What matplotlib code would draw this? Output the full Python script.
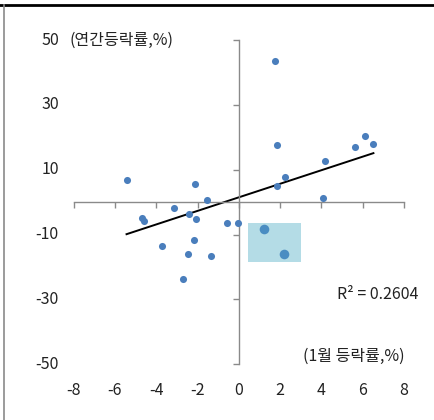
import numpy as np
import matplotlib.pyplot as plt
from matplotlib.lines import Line2D

plt.rcParams['font.family'] = ['Noto Sans CJK KR', 'DejaVu Sans']

# 1월 등락률(x), 연간등락률(y)
x_vals = [1.76, -5.44, -2.10, -1.55, 1.87, 2.25, 1.83, 4.18, 4.07, 5.62, 6.10, 6.52,
          -3.15, -4.68, -4.60, -2.40, -2.06, -0.55, -0.06, -3.73, -2.16, -2.47, -1.34, -2.69]
y_vals = [43.5, 6.9, 5.5, 0.6, 17.7, 7.9, 5.0, 12.7, 1.4, 17.1, 20.5, 18.1,
          -1.9, -5.0, -5.9, -3.7, -5.3, -6.3, -6.3, -13.6, -11.8, -16.0, -16.7, -23.7]

# 강조 표시한 두 점
hi_x = [1.23, 2.20]
hi_y = [-8.4, -16.0]

# 강조 박스 범위
box_x = [0.45, 2.99]
box_y = [-18.4, -6.3]

# 추세선 (그림에서 읽은 기울기/절편)
trend_slope = 2.09
trend_intercept = 1.5

x_ticks = [-8, -6, -4, -2, 0, 2, 4, 6, 8]
y_ticks = [-50, -30, -10, 10, 30, 50]

all_x = np.array(x_vals + hi_x)

fig = plt.figure(figsize=(4.34, 4.20), dpi=100)
ax = fig.add_axes([0.1698, 0.1326, 0.761, 0.772])

ax.set_xlim(-8, 8)
ax.set_ylim(-50, 50)

# 박스
ax.fill_between(box_x, box_y[0], box_y[1], color='#b4dce6', lw=0, zorder=1)

# 산점도
ax.scatter(x_vals, y_vals, s=26, color='#4a7ebc', lw=0, zorder=3)
ax.scatter(hi_x, hi_y, s=48, color='#4a8dc2', lw=0, zorder=3)

# 추세선
xs = np.array([all_x.min(), all_x.max()])
ax.plot(xs, trend_slope * xs + trend_intercept, color='black', lw=1.4, zorder=2)

# 축 설정
for s in ['top', 'right']:
    ax.spines[s].set_visible(False)
ax.spines['left'].set_position(('data', 0))
ax.spines['bottom'].set_position(('data', 0))
for s in ['left', 'bottom']:
    ax.spines[s].set_color('#8a8a8a')
    ax.spines[s].set_linewidth(1.0)
ax.set_xticks(x_ticks)
ax.set_yticks(y_ticks)
ax.tick_params(axis='both', direction='out', length=4.5, width=1.0, color='#8a8a8a',
               labelbottom=False, labelleft=False)

# 눈금 라벨 (축 바깥쪽)
for v in y_ticks:
    ax.text(-0.045, v, str(v), transform=ax.get_yaxis_transform(), ha='right', va='center',
            fontsize=11.5, color='#222222')
for v in x_ticks:
    ax.text(v, -0.08, str(v), transform=ax.get_xaxis_transform(), ha='center', va='center',
            fontsize=11.5, color='#222222')

ax.text(-8.2, 50, '(연간등락률,%)', ha='left', va='center', fontsize=11.5, color='#222222')
ax.text(8.05, -47.5, '(1월 등락률,%)', ha='right', va='center', fontsize=11.5, color='#222222')
ax.text(6.72, -28.5, 'R² = 0.2604', ha='center', va='center', fontsize=11.5, color='#222222')

# 테두리
fig.add_artist(Line2D([0, 1], [1 - 5 / 420, 1 - 5 / 420], color='black', lw=2.0))
fig.add_artist(Line2D([3.5 / 434, 3.5 / 434], [0, 1 - 5 / 420], color='#8a8a8a', lw=1.2))

plt.savefig('out.png', dpi=100)
